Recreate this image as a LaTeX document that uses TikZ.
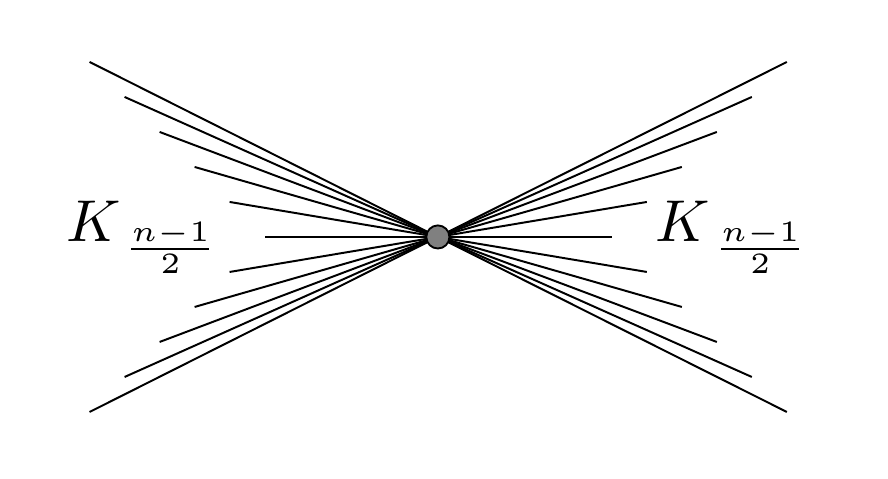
\documentclass[tikz,border=0pt]{standalone}
\usepackage{amsmath}
\usetikzlibrary{calc}
\tikzset{vertex/.style={circle,draw,fill=gray,line width=1.5pt,minimum size=0.66cm,inner sep=0pt},
         spoke/.style={line width=1.6pt},
         klabel/.style={anchor=base,inner sep=0pt,scale=4.8}}
\newcommand{\khalf}{$K_{\,\raisebox{1.9pt}{$\scriptstyle\frac{n-1}{2}$}}$}

\begin{document}
\begin{tikzpicture}
    \useasboundingbox (-12.51,-6.89) rectangle (12.86,6.77);
    \coordinate (o) at (0,0);
    \foreach \k in {0,...,5} {
        \coordinate (lu\k) at ({-4.95-\k},\k);
        \coordinate (ld\k) at ({-4.95-\k},-\k);
        \coordinate (ru\k) at ({4.97+\k},\k);
        \coordinate (rd\k) at ({4.97+\k},-\k);
        \draw [spoke] (o) -- (lu\k) (o) -- (ld\k) (o) -- (ru\k) (o) -- (rd\k);
    }
    \node [vertex] (v) at (o) {};
    \node [klabel] (kl) at (-8.43,-0.14) {\khalf};
    \node [klabel] (kr) at (8.42,-0.14) {\khalf};
\end{tikzpicture}
\end{document}
